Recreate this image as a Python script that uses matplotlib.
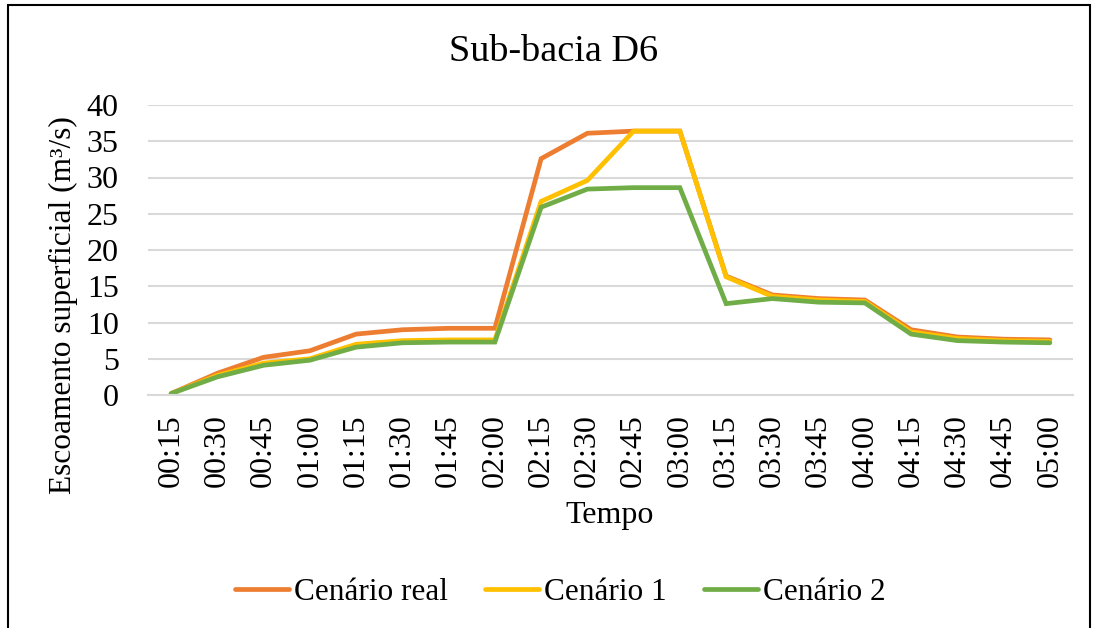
import matplotlib.pyplot as plt
from matplotlib.patches import Rectangle

times = ["00:15", "00:30", "00:45", "01:00", "01:15", "01:30", "01:45", "02:00",
         "02:15", "02:30", "02:45", "03:00", "03:15", "03:30", "03:45", "04:00",
         "04:15", "04:30", "04:45", "05:00"]
cenario_real = [0.2, 3.0, 5.2, 6.1, 8.4, 9.0, 9.2, 9.2, 32.6, 36.1, 36.4, 36.4,
                16.4, 13.8, 13.3, 13.1, 9.0, 8.0, 7.7, 7.6]
cenario_1 = [0.2, 2.7, 4.4, 5.0, 7.0, 7.5, 7.6, 7.6, 26.7, 29.6, 36.4, 36.4,
             16.3, 13.6, 13.1, 12.9, 8.7, 7.8, 7.5, 7.4]
cenario_2 = [0.2, 2.5, 4.1, 4.8, 6.6, 7.2, 7.3, 7.3, 25.9, 28.4, 28.6, 28.6,
             12.6, 13.3, 12.8, 12.7, 8.4, 7.5, 7.3, 7.2]

series = [
    ("Cenário real", cenario_real, "#ED7D31"),
    ("Cenário 1", cenario_1, "#FFC000"),
    ("Cenário 2", cenario_2, "#70AD47"),
]

plt.rcParams["font.family"] = ["Liberation Serif", "DejaVu Serif"]

W, H = 1095, 628
fig = plt.figure(figsize=(W / 100, H / 100), dpi=100)
ax = fig.add_axes([148 / W, 1 - 395 / H, (1073 - 148) / W, (395 - 105) / H])

x = list(range(len(times)))
for name, vals, color in series:
    ax.plot(x, vals, color=color, linewidth=3.4, label=name, solid_capstyle="round",
            solid_joinstyle="miter")

ax.set_xlim(-0.5, len(times) - 0.5)
ax.set_ylim(0, 40)
ax.set_yticks(range(0, 41, 5))
ax.set_xticks(x)
ax.set_xticklabels(times, rotation=90)
ax.tick_params(axis="both", length=0, labelsize=23)
ax.tick_params(axis="y", pad=21)
ax.tick_params(axis="x", pad=14)
ax.grid(True, axis="y", color="#D9D9D9", linewidth=1.5)
ax.set_axisbelow(True)
for side in ["top", "right", "left"]:
    ax.spines[side].set_visible(False)
ax.spines["bottom"].set_color("#D9D9D9")
ax.spines["bottom"].set_linewidth(1.5)

fig.text(63 / W, 1 - 305 / H, "Escoamento superficial (m³/s)", fontsize=22.6,
         rotation=90, ha="center", va="center")
fig.text(610 / W, 1 - 515 / H, "Tempo", fontsize=23, ha="center", va="center")
fig.text(554 / W, 1 - 52 / H, "Sub-bacia D6", fontsize=27.5, ha="center", va="center")

fig.legend(loc="center", bbox_to_anchor=(560 / W, 1 - 592 / H), ncol=3,
           frameon=False, fontsize=22.5, handlelength=1.73, handletextpad=0.15,
           columnspacing=1.2)

fig.patches.append(Rectangle((8 / W, -0.01), (1090 - 8) / W, 1 - 5 / H + 0.01,
                             transform=fig.transFigure, fill=False, edgecolor="black",
                             linewidth=1.5))

fig.savefig("out.png")
